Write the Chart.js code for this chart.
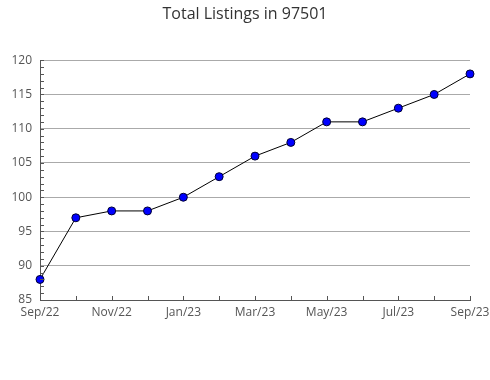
<!DOCTYPE html>
<html>
<head>
<meta charset="utf-8">
<script src="https://cdn.jsdelivr.net/npm/chart.js@4/dist/chart.umd.min.js"></script>
<style>
html,body{margin:0;padding:0;background:#fff;}
#wrap{width:490px;height:380px;position:relative;}
</style>
</head>
<body>
<div id="wrap"><canvas id="c" width="490" height="380"></canvas></div>
<script>
const titleText = "Total Listings in 97501";
const months = ["Sep/22","Oct/22","Nov/22","Dec/22","Jan/23","Feb/23","Mar/23","Apr/23","May/23","Jun/23","Jul/23","Aug/23","Sep/23"];
const listings = [88, 97, 98, 98, 100, 103, 106, 108, 111, 111, 113, 115, 118];
const yMin = 85, yMax = 120, yStep = 5;

const innerTicks = {
  id: 'innerTicks',
  afterDatasetsDraw(chart) {
    const ctx = chart.ctx, x = chart.scales.x, y = chart.scales.y;
    const a = chart.chartArea;
    ctx.save();
    ctx.strokeStyle = '#555';
    ctx.lineWidth = 1;
    ctx.beginPath();
    for (let v = yMin; v <= yMax; v++) {
      const py = Math.round(y.getPixelForValue(v)) + 0.5;
      ctx.moveTo(a.left, py); ctx.lineTo(a.left + 4, py);
    }
    for (let i = 0; i < months.length; i++) {
      const px = Math.round(x.getPixelForValue(i)) + 0.5;
      ctx.moveTo(px, a.bottom); ctx.lineTo(px, a.bottom - 4);
    }
    ctx.stroke();
    ctx.restore();
  }
};

new Chart(document.getElementById('c'), {
  type: 'line',
  data: {
    labels: months,
    datasets: [{
      data: listings,
      borderColor: '#000',
      borderWidth: 1,
      backgroundColor: '#0000ff',
      pointBackgroundColor: '#0000ff',
      pointBorderColor: '#000033',
      pointBorderWidth: 1,
      pointRadius: 4,
      tension: 0,
      clip: false
    }]
  },
  options: {
    responsive: false,
    animation: false,
    devicePixelRatio: 1,
    layout: { padding: 0 },
    plugins: {
      legend: { display: false },
      tooltip: { enabled: false },
      title: {
        display: true,
        text: titleText,
        color: '#333',
        font: { family: 'Open Sans', size: 16, weight: 'normal' },
        padding: { top: 5, bottom: 36 }
      }
    },
    scales: {
      x: {
        type: 'category',
        offset: false,
        grid: { display: false, drawTicks: false },
        border: { display: true, color: '#555', width: 1 },
        ticks: {
          autoSkip: false,
          maxRotation: 0,
          color: '#555',
          padding: 5,
          font: { family: 'Open Sans', size: 12 },
          callback: function(v, i) { return i % 2 === 0 ? months[i] : ''; }
        },
        afterFit: function(s) { s.height = 80; s.paddingLeft = 0; s.paddingRight = 20; }
      },
      y: {
        min: yMin,
        max: yMax,
        grid: { color: '#aaa', lineWidth: 1, drawTicks: false },
        border: { display: true, color: '#555', width: 1 },
        ticks: {
          stepSize: yStep,
          color: '#555',
          padding: 8,
          font: { family: 'Open Sans', size: 12 }
        },
        afterFit: function(s) { s.width = 40; s.paddingTop = 0; s.paddingBottom = 0; }
      }
    }
  },
  plugins: [innerTicks]
});
</script>
</body>
</html>
